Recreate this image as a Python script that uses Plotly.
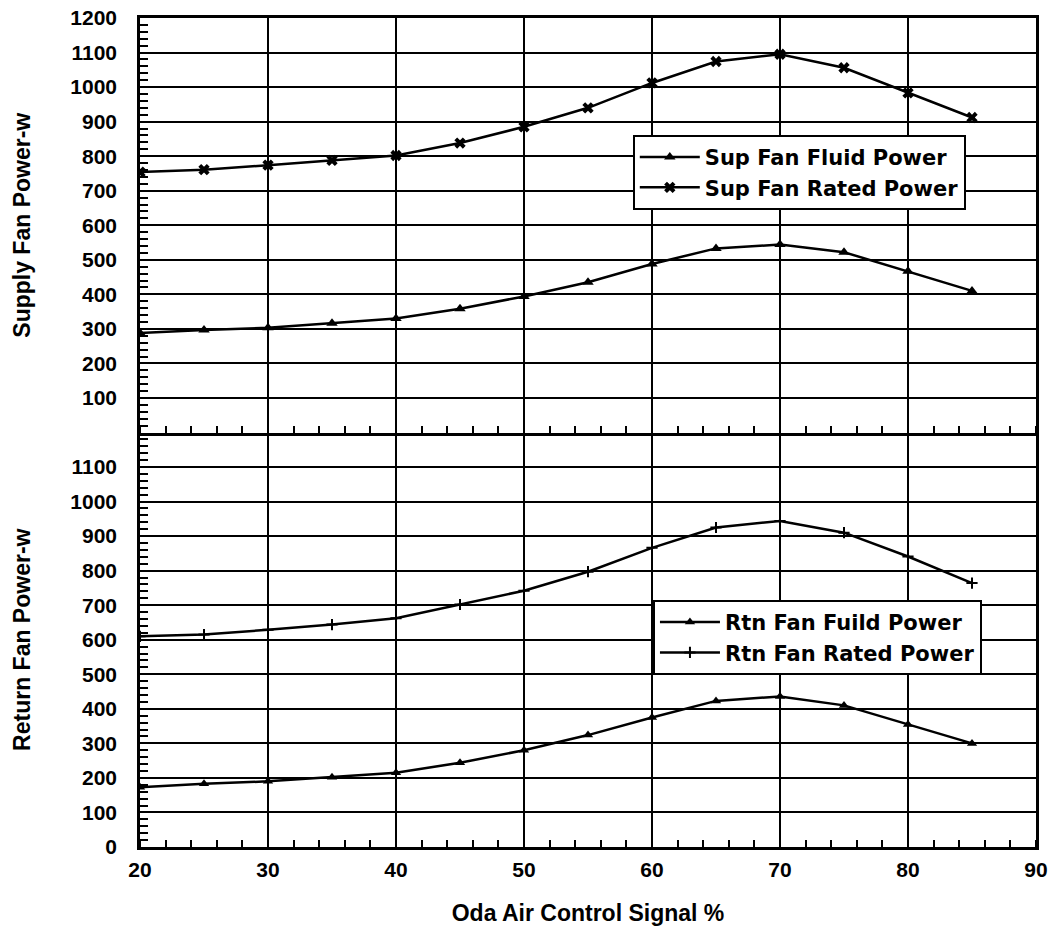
import plotly.graph_objects as go
from plotly.subplots import make_subplots

signal = [20, 25, 30, 35, 40, 45, 50, 55, 60, 65, 70, 75, 80, 85]
sup_fluid = [288, 297, 303, 316, 330, 358, 394, 435, 488, 533, 544, 522, 467, 410]
sup_rated = [754, 761, 774, 788, 802, 838, 885, 940, 1012, 1074, 1095, 1056, 983, 912]
rtn_fluid = [173, 183, 190, 202, 215, 244, 280, 324, 375, 423, 436, 410, 355, 300]
rtn_rated = [610, 615, 629, 644, 662, 702, 742, 797, 866, 925, 944, 910, 841, 764]

x_ticks = [20, 30, 40, 50, 60, 70, 80, 90]
top_ticks = [100, 200, 300, 400, 500, 600, 700, 800, 900, 1000, 1100, 1200]
bot_ticks = [0, 100, 200, 300, 400, 500, 600, 700, 800, 900, 1000, 1100]

FONT = "Liberation Sans, Arial, sans-serif"
WIDE = "DejaVu Sans, Verdana, sans-serif"

fig = make_subplots(rows=2, cols=1, shared_xaxes=True, vertical_spacing=0)

line = dict(color="black", width=2.5)
fig.add_trace(go.Scatter(x=signal, y=sup_fluid, mode="lines+markers", name="Sup Fan Fluid Power",
                         line=line, marker=dict(symbol="triangle-up", size=10, color="black"),
                         legend="legend"), row=1, col=1)
fig.add_trace(go.Scatter(x=signal, y=sup_rated, mode="lines+markers", name="Sup Fan Rated Power",
                         line=line, marker=dict(symbol="x", size=10, color="black"),
                         legend="legend"), row=1, col=1)
fig.add_trace(go.Scatter(x=signal, y=rtn_fluid, mode="lines+markers", name="Rtn Fan Fuild Power",
                         line=line, marker=dict(symbol="triangle-up", size=9, color="black"),
                         legend="legend2"), row=2, col=1)
fig.add_trace(go.Scatter(x=signal, y=rtn_rated, mode="lines+markers", name="Rtn Fan Rated Power",
                         line=line, marker=dict(symbol="cross-thin", size=8, color="black",
                                                line=dict(color="black", width=2)),
                         legend="legend2"), row=2, col=1)

tickfont = dict(family=FONT, size=21, color="black", weight="bold")
titlefont = dict(family=FONT, size=23, color="black", weight="bold")

xcommon = dict(range=[20, 90], tickvals=x_ticks, showgrid=True, gridcolor="black", gridwidth=2,
               showline=True, linecolor="black", linewidth=2.5, zeroline=False, automargin=False,
               ticks="", minor=dict(dtick=2, tick0=20, ticks="inside", ticklen=7, tickwidth=2,
                                    tickcolor="black", showgrid=False),
               tickfont=tickfont)
fig.update_xaxes(**xcommon)
fig.update_xaxes(showticklabels=False, mirror=True, row=1, col=1)
fig.update_xaxes(title=dict(text="Oda Air Control Signal %", font=titlefont, standoff=25),
                 ticklabelstandoff=2, mirror=False, row=2, col=1)

ycommon = dict(range=[0, 1200], showgrid=True, gridcolor="black", gridwidth=2,
               showline=True, linecolor="black", linewidth=2.5, mirror=True, zeroline=False,
               automargin=False,
               ticks="inside", ticklen=8, tickwidth=2, tickcolor="black",
               minor=dict(dtick=20, tick0=0, ticks="inside", ticklen=8, tickwidth=2,
                          tickcolor="black", showgrid=False),
               tickfont=tickfont, ticklabelstandoff=16)
fig.update_yaxes(**ycommon)
fig.update_yaxes(tickvals=top_ticks,
                 title=dict(text="Supply Fan Power-w", font=titlefont, standoff=34), row=1, col=1)
fig.update_yaxes(tickvals=bot_ticks,
                 title=dict(text="Return Fan Power-w", font=titlefont, standoff=34), row=2, col=1)

legfont = dict(family=WIDE, size=21, color="black", weight="bold")
fig.update_layout(
    width=1054, height=928,
    margin=dict(l=140, r=18, t=18, b=81),
    paper_bgcolor="white", plot_bgcolor="white",
    showlegend=True,
    legend=dict(x=0.55, y=0.859, xanchor="left", yanchor="top", bgcolor="white",
                bordercolor="black", borderwidth=2, font=legfont, tracegroupgap=0,
                itemwidth=60),
    legend2=dict(x=0.5725, y=0.298, xanchor="left", yanchor="top", bgcolor="white",
                 bordercolor="black", borderwidth=2, font=legfont, tracegroupgap=0,
                 itemwidth=60),
)

fig.write_html("out.html", config={"displayModeBar": False},
               post_script="document.body.style.margin='0';document.body.style.overflow='hidden';")
